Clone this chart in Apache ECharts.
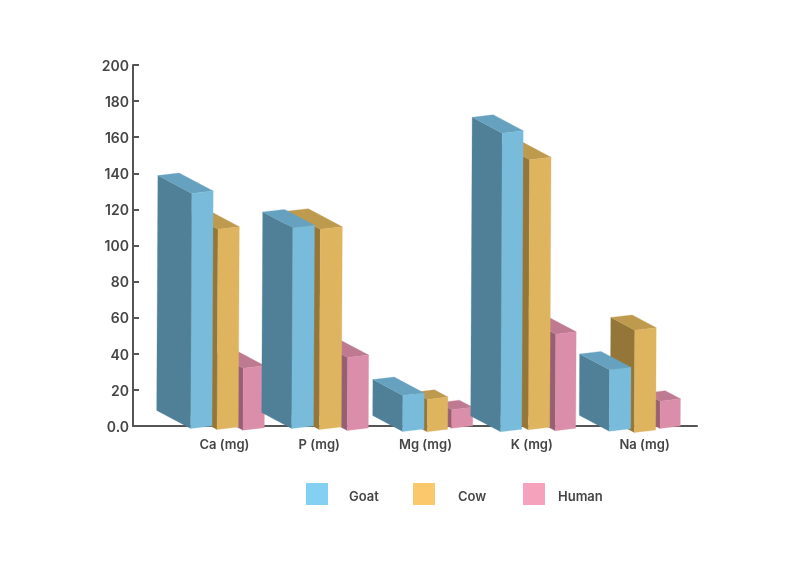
<!DOCTYPE html>
<html>
<head>
<meta charset="utf-8">
<style>html,body{margin:0;padding:0;background:#fff}#c{width:800px;height:565px}</style>
<script src="https://cdn.jsdelivr.net/npm/echarts@6/dist/echarts.min.js"></script>
</head>
<body>
<div id="c"></div>
<script>
var categories = ['Ca (mg)', 'P (mg)', 'Mg (mg)', 'K (mg)', 'Na (mg)'];
var goat  = [130.2, 111.2, 18.3, 163.6, 32.5];
var cow   = [110.4, 110.4, 16.1, 148.9, 54.5];
var human = [33.4, 39.3, 10.4, 52.2, 15.1];

// Drawing layout, kept apart from the data: [offset from band centre, width, depth, base drop]
var goatLayout  = [[1.3,21.3,34,0],[-10.5,21.8,30,0],[-12.3,21.3,30,3],[-27.1,21,30,3.3],[-31.3,21.4,30,2.7]];
var cowLayout   = [[27.6,21.3,30,1],[17.1,22,34,1],[12.3,20.4,13.4,3.3],[0.5,21.4,30,1.3],[-6.3,21.4,24,4]];
var humanLayout = [[53.6,21.3,28,1.7],[45.1,21,28,2],[36.7,21,13.4,-0.3],[27.5,20.4,28,2.3],[19.4,20.3,15.3,0]];

var labelShift = [35, 17, 10.5, 4, 4];
var TEXT = '#454545', AXIS = '#555555', FONT = 'Inter';

function bar3d(layout, colors) {
  return function (params, api) {
    var i = api.value(0), g = layout[i];
    var top = api.coord([i, api.value(1)]);
    var base = api.coord([i, 0]);
    var xl = base[0] + g[0], xr = xl + g[1], d = g[2], dy = d * 0.53, tilt = 2.5;
    var botR = base[1] + g[3], botL = botR + tilt;
    var topR = top[1], topL = topR + tilt;
    var lean = (botR - topR) * 0.005;
    var tl = [xl + lean, topL], tr = [xr + lean, topR];
    var bl = [xl, botL], br = [xr, botR];
    var btl = [tl[0] - d, tl[1] - dy], btr = [tr[0] - d, tr[1] - dy];
    var bbl = [bl[0] - d, bl[1] - dy];
    function poly(pts, c) {
      return { type: 'polygon', shape: { points: pts }, style: { fill: c, stroke: c, lineWidth: 0.3 } };
    }
    return { type: 'group', children: [
      poly([btl, tl, bl, bbl], colors.side),
      poly([btl, btr, tr, tl], colors.top),
      poly([tl, tr, br, bl], colors.front)
    ]};
  };
}

function series(name, values, layout, legendColor, faces, z) {
  return {
    name: name, type: 'custom', z: z,
    coordinateSystem: 'cartesian2d',
    itemStyle: { color: legendColor },
    encode: { x: 0, y: 1 },
    renderItem: bar3d(layout, faces),
    data: values.map(function (v, i) { return [i, v]; })
  };
}

function legend(name, left, textGap) {
  return {
    data: [{ name: name, icon: 'rect' }], left: left, top: 483, padding: 0,
    itemWidth: 22, itemHeight: 22, selectedMode: false,
    formatter: '{t|{name}}',
    textStyle: {
      rich: { t: { color: TEXT, fontFamily: FONT, fontWeight: 600, fontSize: 13, padding: [6, 0, 0, textGap] } }
    }
  };
}

var rich = {};
labelShift.forEach(function (s, i) {
  rich['l' + i] = { color: TEXT, fontFamily: FONT, fontWeight: 600, fontSize: 13, padding: [0, 0, 0, s * 2] };
});

var chart = echarts.init(document.getElementById('c'), null, { renderer: 'canvas' });
chart.setOption({
  animation: false,
  backgroundColor: '#ffffff',
  legend: [legend('Goat', 306, 16), legend('Cow', 413, 18), legend('Human', 523, 8)],
  grid: { left: 133, top: 65, width: 564, height: 361, containLabel: false },
  xAxis: {
    type: 'category', data: categories, boundaryGap: true,
    axisTick: { show: false },
    axisLine: { lineStyle: { color: AXIS, width: 2 } },
    axisLabel: {
      margin: 13, interval: 0,
      formatter: function (v, i) { return '{l' + i + '|' + v + '}'; },
      rich: rich
    }
  },
  yAxis: {
    type: 'value', min: 0, max: 200, interval: 20,
    splitLine: { show: false },
    axisLine: { show: true, lineStyle: { color: AXIS, width: 2 } },
    axisTick: { show: true, inside: true, length: 6, lineStyle: { color: AXIS, width: 2 } },
    axisLabel: {
      margin: 4,
      formatter: function (v) { return '{v|' + (v === 0 ? '0.0' : String(v)) + '}'; },
      rich: { v: { color: TEXT, fontFamily: FONT, fontWeight: 600, fontSize: 14, padding: [3, 0, 0, 0] } }
    }
  },
  series: [
    series('Goat', goat, goatLayout, '#83D0F2', { front: '#78BBDA', side: '#508097', top: '#66A2BF' }, 5),
    series('Cow', cow, cowLayout, '#FBC96B', { front: '#DEB45F', side: '#957639', top: '#BD9A4E' }, 4),
    series('Human', human, humanLayout, '#F5A3BC', { front: '#DA8EA9', side: '#975F72', top: '#BE7A91' }, 3)
  ]
});
</script>
</body>
</html>
